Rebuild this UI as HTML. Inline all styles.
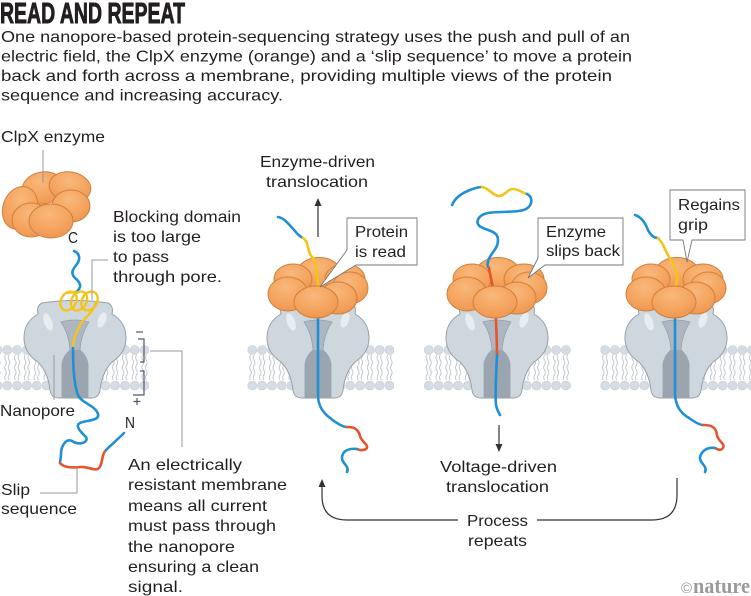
<!DOCTYPE html>
<html><head><meta charset="utf-8"><style>
html,body{margin:0;padding:0;background:#fff;}
svg{display:block;}
text{font-family:"Liberation Sans",sans-serif;fill:#231f20;font-size:16px;}
</style></head><body>
<svg width="751" height="596" viewBox="0 0 751 596" xmlns="http://www.w3.org/2000/svg">
<defs>
 <pattern id="mem" x="2.4" y="0" width="9.8" height="596" patternUnits="userSpaceOnUse">
   <path d="M3.1,355 q-1.6,2.5 0,5 t0,5 t0,5 t0,5 t0,5" fill="none" stroke="#B3BCC5" stroke-width="0.8"/>
   <path d="M6.7,355 q-1.6,2.5 0,5 t0,5 t0,5 t0,5 t0,5" fill="none" stroke="#B3BCC5" stroke-width="0.8"/>
   <circle cx="4.9" cy="350" r="4.5" fill="#D5DCE3" stroke="#C0C8D0" stroke-width="0.6"/>
   <circle cx="4.9" cy="385.5" r="4.5" fill="#D5DCE3" stroke="#C0C8D0" stroke-width="0.6"/>
 </pattern>
 <radialGradient id="og" cx="0.45" cy="0.3" r="0.75">
   <stop offset="0" stop-color="#F8B87C"/>
   <stop offset="0.55" stop-color="#F5A661"/>
   <stop offset="1" stop-color="#EC9550"/>
 </radialGradient>
 <g id="pore">
   <path d="M-33,303 Q0,298 33,303 Q39,306 37,314 Q51,322 51,338 Q51,353 37,362 Q27,372 25,390 Q24,398 16,398 L-16,398 Q-24,398 -25,390 Q-27,372 -37,362 Q-51,353 -51,338 Q-51,322 -37,314 Q-39,306 -33,303 Z" fill="#CFD7DE" stroke="#95A0AB" stroke-width="1"/>
   <path d="M-14,322 Q0,318 14,322 Q6,334 5,350 Q12,356 13,364 L13,398 L-13,398 L-13,364 Q-12,356 -5,350 Q-6,334 -14,322 Z" fill="#AEB7C1" stroke="#95A0AB" stroke-width="0.8"/>
   <path d="M-5,350 Q-12,356 -13,364 L-13,398 L13,398 L13,364 Q12,356 5,350 Z" fill="#9BA5B0"/>
   <ellipse cx="-27" cy="322" rx="4" ry="9" transform="rotate(-20 -27 322)" fill="#E8EDF1"/>
   <ellipse cx="27" cy="320" rx="4" ry="8" transform="rotate(20 27 320)" fill="#E8EDF1"/>
 </g>
 <g id="eback" fill="url(#og)" stroke="#D0803C" stroke-width="1">
   <ellipse cx="1" cy="273" rx="22" ry="15.5"/>
   <ellipse cx="-25" cy="279" rx="19" ry="15"/>
   <ellipse cx="27" cy="279" rx="20" ry="15"/>
   <ellipse cx="32" cy="288" rx="18" ry="16"/>
 </g>
 <g id="efront" fill="url(#og)" stroke="#D0803C" stroke-width="1">
   <ellipse cx="-30" cy="294" rx="20" ry="17"/>
   <ellipse cx="20" cy="298" rx="19" ry="16"/>
   <ellipse cx="-2" cy="302" rx="22" ry="16"/>
 </g>
</defs>

<!-- Title & intro -->
<text x="0" y="23" textLength="185" lengthAdjust="spacingAndGlyphs" stroke="#231f20" stroke-width="0.9" style="font-family:'Liberation Sans Narrow','Liberation Sans',sans-serif;font-weight:bold;font-size:29px;">READ AND REPEAT</text>
<text x="1" y="42" textLength="629" lengthAdjust="spacingAndGlyphs">One nanopore-based protein-sequencing strategy uses the push and pull of an</text>
<text x="1" y="61.5" textLength="631" lengthAdjust="spacingAndGlyphs">electric field, the ClpX enzyme (orange) and a ‘slip sequence’ to move a protein</text>
<text x="1" y="81" textLength="611" lengthAdjust="spacingAndGlyphs">back and forth across a membrane, providing multiple views of the protein</text>
<text x="1" y="100.5" textLength="282" lengthAdjust="spacingAndGlyphs">sequence and increasing accuracy.</text>

<!-- Membranes -->
<rect x="0" y="345" width="149" height="46" fill="url(#mem)"/>
<rect x="247.5" y="345" width="146.5" height="46" fill="url(#mem)"/>
<rect x="424" y="345" width="147" height="46" fill="url(#mem)"/>
<rect x="600.5" y="345" width="150.5" height="46" fill="url(#mem)"/>

<!-- Pores -->
<use href="#pore" x="75"/>
<use href="#pore" x="318"/>
<use href="#pore" x="497"/>
<use href="#pore" x="676"/>

<!-- Panel 1 -->
<g fill="url(#og)" stroke="#D0803C" stroke-width="1">
  <ellipse cx="43" cy="188" rx="21" ry="16" transform="rotate(-10 43 188)"/>
  <ellipse cx="70" cy="187" rx="21" ry="15" transform="rotate(10 70 187)"/>
  <ellipse cx="20" cy="208" rx="17" ry="22" transform="rotate(20 20 208)"/>
  <ellipse cx="71" cy="206" rx="19" ry="16"/>
  <ellipse cx="31" cy="220" rx="19" ry="17"/>
  <ellipse cx="51" cy="221" rx="22" ry="17"/>
</g>
<g fill="none" stroke-width="2.6" stroke-linecap="round">
  <path d="M74,251 C79,253 81,258 77,264 C73,269 70,273 75,278 C80,282 83,287 76,292" stroke="#1F8FD6"/>
  <g stroke="#F5C419" stroke-width="2.4">
    <ellipse cx="68.5" cy="301" rx="7.5" ry="10" transform="rotate(30 68.5 301)"/>
    <ellipse cx="79" cy="301" rx="7.5" ry="10" transform="rotate(30 79 301)"/>
    <ellipse cx="89.5" cy="301" rx="7.5" ry="10" transform="rotate(30 89.5 301)"/>
    <path d="M76,292 C73,292 70,292 68,293"/>
    <path d="M96,302 C94,312 84,318 80,325 C76,333 73,340 73,348"/>
  </g>
  <path d="M73,348 C73,365 74,385 78,395 C81,403 95,405 98,414 C100,421 86,420 80,423 C74,426 82,433 86,437 C89,442 80,446 72,441 C66,438 61,446 61,454 C61,458 60,461 60,463" stroke="#1F8FD6"/>
  <path d="M60,463 C64,468 72,468 80,467 C88,466 95,472 99,468 C103,464 101,455 106,450" stroke="#E4552C"/>
  <path d="M106,450 C111,445 117,440 124,433" stroke="#1F8FD6"/>
</g>
<!-- leaders P1 -->
<g fill="none" stroke="#9A9A9A" stroke-width="1">
  <path d="M43,150 V183"/>
  <path d="M108,260 H92 V300"/>
  <path d="M54,355 V400"/>
  <path d="M40,493 H77 V468"/>
  <path d="M150,351 H182 V447"/>
</g>
<g fill="none" stroke="#4D5B6B" stroke-width="1.2">
  <path d="M136,332 H143"/>
  <path d="M138,339 H144 V362 H140 M140,371 H144 V395 H133"/>
  <path d="M133.5,401.5 H140.5 M137,398 V405"/>
</g>
<text x="1" y="142" textLength="104" lengthAdjust="spacingAndGlyphs">ClpX enzyme</text>
<text x="68" y="243" textLength="10" lengthAdjust="spacingAndGlyphs">C</text>
<text x="113" y="222" textLength="128" lengthAdjust="spacingAndGlyphs">Blocking domain</text>
<text x="113" y="242" textLength="88" lengthAdjust="spacingAndGlyphs">is too large</text>
<text x="113" y="262" textLength="56" lengthAdjust="spacingAndGlyphs">to pass</text>
<text x="113" y="282" textLength="109" lengthAdjust="spacingAndGlyphs">through pore.</text>
<text x="0" y="416" textLength="75" lengthAdjust="spacingAndGlyphs">Nanopore</text>
<text x="125" y="428" textLength="10" lengthAdjust="spacingAndGlyphs">N</text>
<text x="1" y="495" textLength="29" lengthAdjust="spacingAndGlyphs">Slip</text>
<text x="1" y="514" textLength="76" lengthAdjust="spacingAndGlyphs">sequence</text>
<text x="128" y="470" textLength="114" lengthAdjust="spacingAndGlyphs">An electrically</text>
<text x="128" y="490" textLength="159" lengthAdjust="spacingAndGlyphs">resistant membrane</text>
<text x="128" y="511" textLength="139" lengthAdjust="spacingAndGlyphs">means all current</text>
<text x="128" y="531" textLength="148" lengthAdjust="spacingAndGlyphs">must pass through</text>
<text x="128" y="552" textLength="107" lengthAdjust="spacingAndGlyphs">the nanopore</text>
<text x="128" y="572" textLength="131" lengthAdjust="spacingAndGlyphs">ensuring a clean</text>
<text x="128" y="592" textLength="55" lengthAdjust="spacingAndGlyphs">signal.</text>

<!-- Panel 2 -->
<use href="#eback" x="318"/>
<g fill="none" stroke-width="2.6" stroke-linecap="round">
  <path d="M318,300 L318,395 C318,405 322,412 330,418 C336,423 343,427 347,427" stroke="#1F8FD6"/>
  <path d="M347,427 C353,427 358,428 360,436 C362,443 370,445 366,449 C363,451 359,450 357,449" stroke="#E4552C"/>
  <path d="M357,449 C350,448 343,450 342,457 C341,463 350,466 347,472" stroke="#1F8FD6"/>
  <path d="M278,217 C285,218 290,226 295,231 C298,235 301,237 303,238" stroke="#1F8FD6"/>
  <path d="M303,238 C310,243 306,250 312,257 C318,264 316,270 317,277 C318,281 318,285 319,288" stroke="#F5C419"/>
</g>
<use href="#efront" x="318"/>
<path d="M318,237 V204" stroke="#333" stroke-width="1.2"/>
<polygon points="318,198 314.5,206 321.5,206" fill="#333"/>
<text x="260" y="167" textLength="115" lengthAdjust="spacingAndGlyphs">Enzyme-driven</text>
<text x="266" y="187" textLength="102" lengthAdjust="spacingAndGlyphs">translocation</text>
<path d="M347,218 H417 V265 H356 L320,287 L347,250 Z" fill="#fff" stroke="#777" stroke-width="0.9"/>
<text x="355" y="237" textLength="53" lengthAdjust="spacingAndGlyphs">Protein</text>
<text x="355" y="257" textLength="51" lengthAdjust="spacingAndGlyphs">is read</text>

<!-- Panel 3 -->
<use href="#eback" x="497"/>
<g fill="none" stroke-width="2.6" stroke-linecap="round">
  <path d="M452,205 C455,198 462,193 470,190 C475,188 479,187 482,187" stroke="#1F8FD6"/>
  <path d="M482,187 C489,188 493,196 499,196 C505,196 507,189 513,189 C519,189 522,193 527,194" stroke="#F5C419"/>
  <path d="M527,194 C533,197 533,205 526,209 C518,213 500,211 488,213 C478,215 474,223 481,227 C488,231 498,231 498,240 C498,250 489,254 488,262 C487,266 488,267 489,268" stroke="#1F8FD6"/>
  <path d="M489,268 C491,280 494,290 495,300 C496,320 497,340 497,355" stroke="#E4552C"/>
  <path d="M497,355 C496,375 495,395 496,405 C497,410 499,413 500,415" stroke="#1F8FD6"/>
</g>
<use href="#efront" x="497"/>
<path d="M499,425 V446" stroke="#333" stroke-width="1.2"/>
<polygon points="499,452 495.5,444 502.5,444" fill="#333"/>
<text x="440" y="472" textLength="117" lengthAdjust="spacingAndGlyphs">Voltage-driven</text>
<text x="446" y="492" textLength="103" lengthAdjust="spacingAndGlyphs">translocation</text>
<path d="M538,218 H623 V265 H545 L528,278 L538,258 Z" fill="#fff" stroke="#777" stroke-width="0.9"/>
<text x="546" y="237" textLength="60" lengthAdjust="spacingAndGlyphs">Enzyme</text>
<text x="546" y="256" textLength="74" lengthAdjust="spacingAndGlyphs">slips back</text>

<!-- Panel 4 -->
<use href="#eback" x="676"/>
<g fill="none" stroke-width="2.6" stroke-linecap="round">
  <path d="M675,300 L675,395 C676,405 679,412 689,418 C696,423 700,425 703,425" stroke="#1F8FD6"/>
  <path d="M703,425 C710,425 716,426 717,435 C718,442 727,444 722,449 C720,451 717,449 715,448" stroke="#E4552C"/>
  <path d="M715,448 C708,447 702,450 700,457 C699,463 708,466 705,472" stroke="#1F8FD6"/>
  <path d="M635,215 C641,217 645,222 648,230 C651,236 655,238 658,238" stroke="#1F8FD6"/>
  <path d="M658,238 C664,244 665,250 668,255 C672,262 676,268 677,275 C678,281 676,285 675,288" stroke="#F5C419"/>
</g>
<use href="#efront" x="676"/>
<path d="M670,190 H745 V240 H692 L687,262 L683,240 H670 Z" fill="#fff" stroke="#777" stroke-width="0.9"/>
<text x="678" y="210" textLength="62" lengthAdjust="spacingAndGlyphs">Regains</text>
<text x="678" y="230" textLength="30" lengthAdjust="spacingAndGlyphs">grip</text>

<!-- Process repeats -->
<g fill="none" stroke="#333" stroke-width="1.2">
  <path d="M322,486 L322,496 Q322,520 347,520 L458,520"/>
  <path d="M537,520 L652,520 Q677,520 677,495 L677,478"/>
</g>
<polygon points="322,479 318.5,487 325.5,487" fill="#333"/>
<text x="467" y="526" textLength="61" lengthAdjust="spacingAndGlyphs">Process</text>
<text x="468" y="546" textLength="59" lengthAdjust="spacingAndGlyphs">repeats</text>

<!-- nature logo -->
<text x="681" y="593" style="font-size:15px;fill:#9a9a9a;">©</text>
<text x="693" y="593" textLength="57" lengthAdjust="spacingAndGlyphs" style="font-family:'Liberation Serif',serif;font-weight:bold;font-size:22px;fill:#9a9a9a;">nature</text>
</svg>
</body></html>
